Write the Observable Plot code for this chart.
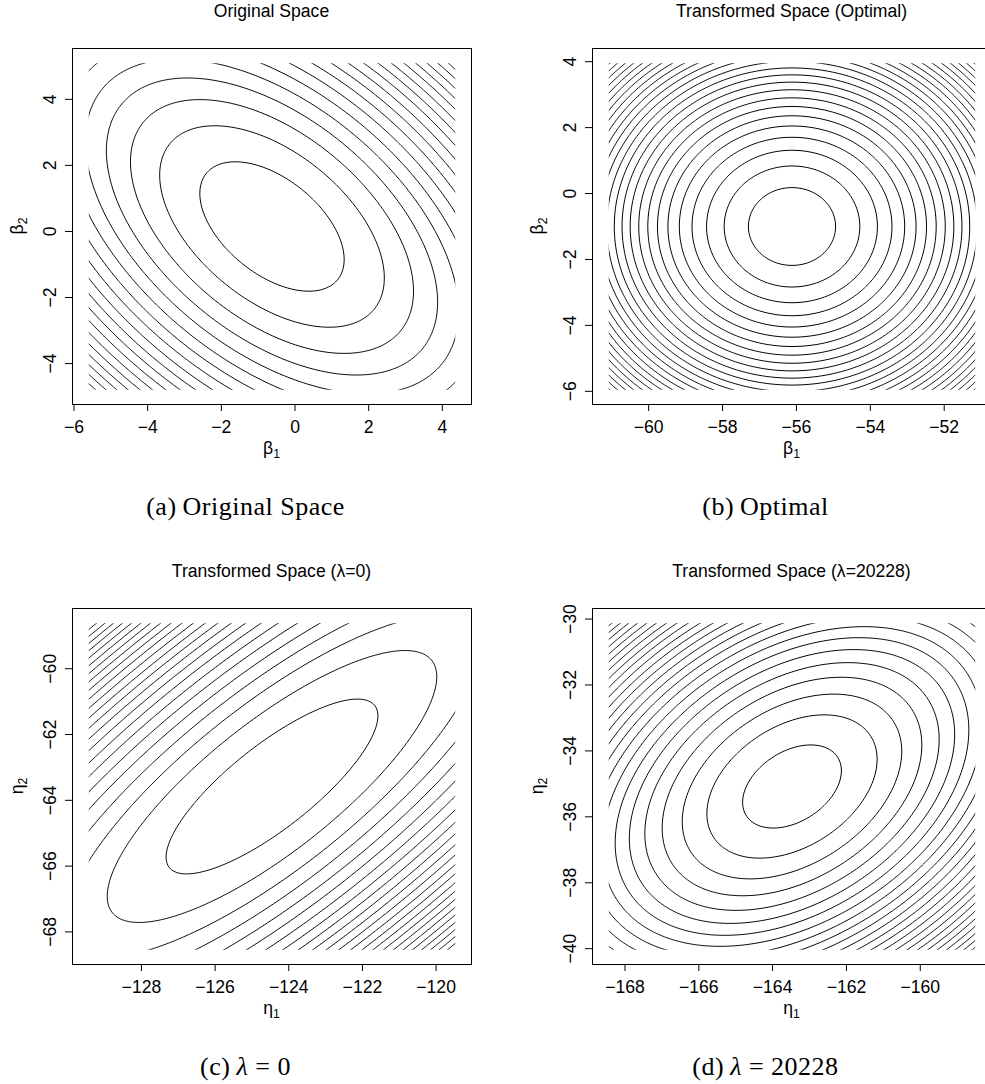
<!DOCTYPE html>
<html>
<head>
<meta charset="utf-8">
<script src="https://cdn.jsdelivr.net/npm/d3@7"></script>
<script src="https://cdn.jsdelivr.net/npm/@observablehq/plot@0.6"></script>
<style>
  html, body { margin: 0; padding: 0; background: #fff; }
  body { width: 985px; height: 1084px; overflow: hidden; position: relative; }
  .panel { position: absolute; width: 490px; height: 484px; }
  .panel svg { max-width: none !important; width: 490px; height: 484px; display: block; }
  .title { position: absolute; font-family: "Liberation Sans", Arial, sans-serif; font-size: 17.6px; line-height: 17.6px; color: #000; white-space: nowrap; transform: translateX(-50%); }
  .caption { position: absolute; font-family: "Liberation Serif", "Times New Roman", serif; font-size: 26px; line-height: 26px; letter-spacing: 0.5px; color: #000; white-space: nowrap; transform: translateX(-50%); }
  .caption .tag { margin-right: 6px; }
</style>
</head>
<body>
<script>
// ---- data ----
const panelKeys = ["a", "b", "c", "d"];
const titles = ["Original Space", "Transformed Space (Optimal)", "Transformed Space (λ=0)", "Transformed Space (λ=20228)"];
const captionTags = ["(a)", "(b)", "(c)", "(d)"];
const captionTexts = ["Original Space", "Optimal", "λ = 0", "λ = 20228"];
const axisSymbols = ["β", "β", "η", "η"];
// extent of the evaluated grid (contours are drawn only inside it)
const gridX = [[-5.64, 4.39], [-61.12, -51.12], [-129.47, -119.44], [-168.48, -158.47]];
const gridY = [[-4.84, 5.14], [-6.0, 4.0], [-68.59, -58.57], [-40.08, -30.08]];
// minimum of each quadratic surface
const minX = [-0.625, -56.12, -124.455, -163.475];
const minY = [0.15, -1.0, -63.58, -35.08];
// quadratic form coefficients  Q = xx*dx^2 + 2*xy*dx*dy + yy*dy^2
const quadXX = [1.0, 1.0, 0.854, 0.888];
const quadXY = [0.51, 0.0, -0.746, -0.358];
const quadYY = [1.0, 1.0, 1.0, 1.0];
// contour levels: first level above the minimum and the spacing between levels
const firstLevel = [2.84, 1.392, 2.459, 1.36];
const levelStep = [4.04, 1.977, 3.493, 2.68];
const levelCount = [30, 30, 30, 30];
const xTickValues = [[-6, -4, -2, 0, 2, 4], [-60, -58, -56, -54, -52], [-128, -126, -124, -122, -120], [-168, -166, -164, -162, -160]];
const yTickValues = [[-4, -2, 0, 2, 4], [-6, -4, -2, 0, 2, 4], [-68, -66, -64, -62, -60], [-40, -38, -36, -34, -32, -30]];

// ---- layout ----
const frameLeft = [72, 592, 72, 592];
const frameTop = [48, 48, 608, 608];
const FW = 399, FH = 356;
const mL = 72, mT = 48, mR = 19, mB = 80;
const NS = "http://www.w3.org/2000/svg";
const sans = '"Liberation Sans", Arial, Helvetica, sans-serif';

function svgEl(name, attrs) {
  const e = document.createElementNS(NS, name);
  for (const k in attrs) e.setAttribute(k, attrs[k]);
  return e;
}

panelKeys.forEach((key, i) => {
  const gx = gridX[i], gy = gridY[i];
  const ex = (gx[1] - gx[0]) * 0.04, ey = (gy[1] - gy[0]) * 0.04;
  const levels = d3.range(levelCount[i]).map(k => firstLevel[i] + k * levelStep[i]);
  const value = (x, y) => {
    const dx = x - minX[i], dy = y - minY[i];
    return quadXX[i] * dx * dx + 2 * quadXY[i] * dx * dy + quadYY[i] * dy * dy;
  };

  const plot = Plot.plot({
    width: mL + FW + mR,
    height: mT + FH + mB,
    marginLeft: mL, marginTop: mT, marginRight: mR, marginBottom: mB,
    x: {domain: [gx[0] - ex, gx[1] + ex], label: null},
    y: {domain: [gy[0] - ey, gy[1] + ey], label: null},
    style: {fontFamily: sans, fontSize: "17.6px", color: "black", background: "white", overflow: "visible"},
    marks: [
      Plot.contour({
        x1: gx[0], x2: gx[1], y1: gy[0], y2: gy[1],
        value, thresholds: levels, pixelSize: 1,
        fill: "none", stroke: "black", strokeWidth: 1
      }),
      Plot.frame({stroke: "black", strokeWidth: 1}),
      Plot.axisX({ticks: xTickValues[i], tickSize: 7, tickPadding: 9, label: null, stroke: "black", fill: "black"}),
      Plot.axisY({ticks: yTickValues[i], tickSize: 7, tickPadding: 10, tickRotate: -90, label: null, stroke: "black", fill: "black"})
    ]
  });

  // clip the contour group to the evaluated grid (hides the grid-border rings)
  const xs = plot.scale("x"), ys = plot.scale("y");
  const px1 = xs.apply(gx[0]), px2 = xs.apply(gx[1]);
  const py1 = ys.apply(gy[1]), py2 = ys.apply(gy[0]);
  const defs = svgEl("defs", {});
  const cp = svgEl("clipPath", {id: "clip-" + key});
  cp.appendChild(svgEl("rect", {x: px1 + 1.5, y: py1 + 1.5, width: px2 - px1 - 3, height: py2 - py1 - 3}));
  defs.appendChild(cp);
  plot.insertBefore(defs, plot.firstChild);
  const g = plot.querySelector('g[aria-label="contour"]');
  if (g) g.setAttribute("clip-path", `url(#clip-${key})`);

  // axis titles with subscripts
  const xl = svgEl("text", {x: mL + FW / 2, y: mT + FH + 50, "text-anchor": "middle", "font-family": sans, "font-size": "17.6", fill: "black"});
  const t1 = svgEl("tspan", {}); t1.textContent = axisSymbols[i];
  const s1 = svgEl("tspan", {dy: "4", "font-size": "12.3"}); s1.textContent = "1";
  xl.appendChild(t1); xl.appendChild(s1);
  plot.appendChild(xl);
  const yl = svgEl("text", {transform: `translate(${mL - 49},${mT + FH / 2}) rotate(-90)`, "text-anchor": "middle", "font-family": sans, "font-size": "17.6", fill: "black"});
  const t2 = svgEl("tspan", {}); t2.textContent = axisSymbols[i];
  const s2 = svgEl("tspan", {dy: "4", "font-size": "12.3"}); s2.textContent = "2";
  yl.appendChild(t2); yl.appendChild(s2);
  plot.appendChild(yl);

  const holder = document.createElement("div");
  holder.className = "panel";
  holder.style.left = (frameLeft[i] - mL) + "px";
  holder.style.top = (frameTop[i] - mT) + "px";
  holder.appendChild(plot);
  document.body.appendChild(holder);

  // title above the plot
  const title = document.createElement("div");
  title.className = "title";
  title.textContent = titles[i];
  title.style.left = (frameLeft[i] + FW / 2) + "px";
  title.style.top = (frameTop[i] - 30 - 14.9) + "px";
  document.body.appendChild(title);

  // sub-figure caption below
  const cap = document.createElement("div");
  cap.className = "caption";
  const tag = document.createElement("span");
  tag.className = "tag";
  tag.textContent = captionTags[i];
  cap.appendChild(tag);
  const txt = captionTexts[i];
  if (txt.startsWith("λ")) {
    const lam = document.createElement("i");
    lam.textContent = "λ";
    cap.appendChild(lam);
    cap.appendChild(document.createTextNode(txt.slice(1)));
  } else {
    cap.appendChild(document.createTextNode(txt));
  }
  cap.style.left = (frameLeft[i] + 173.5) + "px";
  cap.style.top = (frameTop[i] + FH + 111.5 - 21.8) + "px";
  document.body.appendChild(cap);
});
</script>
</body>
</html>
